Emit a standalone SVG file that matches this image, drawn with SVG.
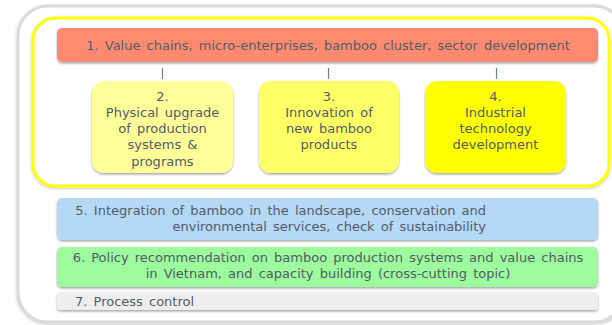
<svg xmlns="http://www.w3.org/2000/svg" width="612" height="325" viewBox="0 0 612 325">
<defs>
<filter id="sh" x="-5%" y="-10%" width="110%" height="130%">
<feDropShadow dx="0" dy="1.5" stdDeviation="1" flood-color="#000" flood-opacity="0.35"/>
</filter>
<filter id="sh2" x="-5%" y="-5%" width="110%" height="110%">
<feDropShadow dx="0" dy="1" stdDeviation="1.5" flood-color="#000" flood-opacity="0.25"/>
</filter>
</defs>
<style>
text{font-family:"DejaVu Sans","Liberation Sans",sans-serif;font-size:13px;word-spacing:2px;fill:#525c68;}
.c{text-anchor:middle;}
.box{filter:url(#sh);}
.conn line{stroke:#6f7f8f;stroke-width:1.2;}
</style>
<rect width="612" height="325" fill="#fff"/>
<g id="outer">
<rect x="18" y="6" width="606" height="316" rx="30" fill="#fff" stroke="#d9d9d9" stroke-width="3" filter="url(#sh2)"/>
</g>
<g id="frame">
<rect x="33" y="18" width="576" height="168" rx="22" fill="#fff" stroke="#ffff00" stroke-width="3" filter="url(#sh2)"/>
</g>
<g id="n1">
<rect class="box" x="57" y="28" width="541" height="34" rx="5" fill="#ff8a70"/>
<text class="c" x="328" y="50">1. Value chains, micro-enterprises, bamboo cluster, sector development</text>
</g>
<g class="conn" id="connectors">
<line x1="162.5" y1="68" x2="162.5" y2="79"/>
<line x1="328.5" y1="68" x2="328.5" y2="79"/>
<line x1="496.5" y1="68" x2="496.5" y2="79"/>
</g>
<g id="n2">
<rect class="box" x="92" y="81" width="141" height="92" rx="12" fill="#ffff99"/>
<text class="c" x="162.5" y="101">2.</text>
<text class="c" x="162.5" y="117">Physical upgrade</text>
<text class="c" x="162.5" y="133">of production</text>
<text class="c" x="162.5" y="149">systems &amp;</text>
<text class="c" x="162.5" y="166">programs</text>
</g>
<g id="n3">
<rect class="box" x="259" y="81" width="140" height="92" rx="12" fill="#ffff66"/>
<text class="c" x="329" y="101">3.</text>
<text class="c" x="329" y="117">Innovation of</text>
<text class="c" x="329" y="133">new bamboo</text>
<text class="c" x="329" y="149">products</text>
</g>
<g id="n4">
<rect class="box" x="425" y="81" width="141" height="92" rx="12" fill="#ffff00"/>
<text class="c" x="495.5" y="101">4.</text>
<text class="c" x="495.5" y="117">Industrial</text>
<text class="c" x="495.5" y="133">technology</text>
<text class="c" x="495.5" y="149">development</text>
</g>
<g id="n5">
<rect class="box" x="57" y="198" width="541" height="42" rx="5" fill="#b4d8f6"/>
<text x="486" y="215" text-anchor="end">5. Integration of bamboo in the landscape, conservation and</text>
<text x="486" y="231" text-anchor="end">environmental services, check of sustainability</text>
</g>
<g id="n6">
<rect class="box" x="57" y="247" width="541" height="40" rx="5" fill="#9cfb9c"/>
<text class="c" x="328" y="262">6. Policy recommendation on bamboo production systems and value chains</text>
<text class="c" x="328" y="278">in Vietnam, and capacity building (cross-cutting topic)</text>
</g>
<g id="n7">
<rect class="box" x="57" y="292" width="541" height="18" rx="4" fill="#eeeeee"/>
<text x="75" y="305.5">7. Process control</text>
</g>
</svg>
